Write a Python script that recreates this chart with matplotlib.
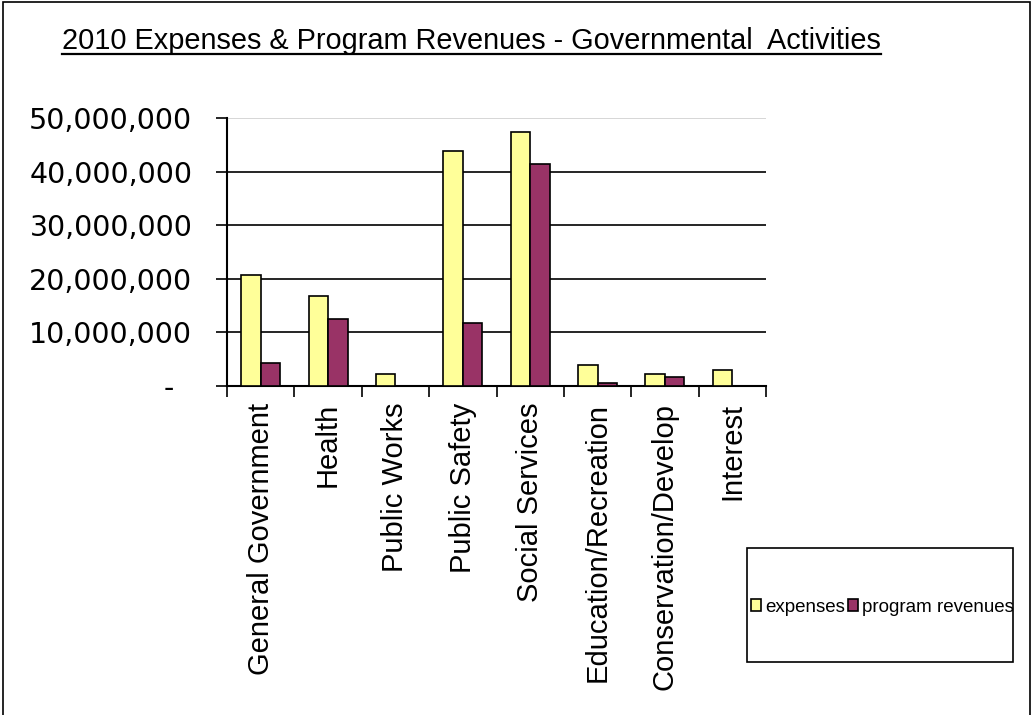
import matplotlib
matplotlib.use("Agg")
import matplotlib.pyplot as plt
import numpy as np
from matplotlib.patches import Rectangle, Patch
from matplotlib.lines import Line2D
from matplotlib.ticker import FuncFormatter

categories = [
    "General Government", "Health", "Public Works", "Public Safety",
    "Social Services", "Education/Recreation", "Conservation/Develop", "Interest",
]
expenses = [20.8e6, 16.8e6, 2.2e6, 43.8e6, 47.4e6, 3.9e6, 2.2e6, 2.9e6]
program_revenues = [4.2e6, 12.5e6, 0.0, 11.8e6, 41.5e6, 0.6e6, 1.7e6, 0.0]
y_ticks = [0, 10e6, 20e6, 30e6, 40e6, 50e6]

plt.rcParams["font.family"] = ["Liberation Sans", "DejaVu Sans"]

W, H = 1034, 715
fig = plt.figure(figsize=(W / 100, H / 100), dpi=100)

# outer chart frame (bottom edge falls off the page)
fig.add_artist(Rectangle((3 / W, -0.05), (1030 - 3) / W, 1.05 - 2 / H,
                         transform=fig.transFigure, fill=False,
                         edgecolor="black", linewidth=1.2))

ax = fig.add_axes([227 / W, 1 - 386 / H, (766 - 227) / W, (386 - 118) / H])

x = np.arange(len(categories))
bw = 0.29
ax.bar(x - bw / 2, expenses, bw, color="#FFFF99", edgecolor="black",
       linewidth=1.2, label="expenses", zorder=3)
ax.bar(x + bw / 2, program_revenues, bw, color="#993366", edgecolor="black",
       linewidth=1.2, label="program revenues", zorder=3)

ax.set_xlim(-0.5, len(categories) - 0.5)
ax.set_ylim(0, 50e6)
ax.set_yticks(y_ticks)
# accounting style: zero shows as a dash
ax.yaxis.set_major_formatter(FuncFormatter(lambda v, _: "-  " if v == 0 else f"{v:,.0f}"))
ax.tick_params(axis="y", direction="out", length=8, width=1.2, pad=17)
for lbl in ax.get_yticklabels():
    lbl.set_fontfamily("DejaVu Sans")
    lbl.set_fontsize(20.5)

# category boundary ticks, labels at centres
ax.set_xticks(np.arange(len(categories) + 1) - 0.5)
ax.set_xticklabels([])
ax.set_xticks(x, minor=True)
ax.set_xticklabels(categories, minor=True, rotation=90, fontsize=21)
ax.tick_params(axis="x", which="major", direction="out", length=8, width=1.2)
ax.tick_params(axis="x", which="minor", length=0, pad=12)

for v in y_ticks[1:]:
    ax.axhline(v, color="#D0D0D0" if v == y_ticks[-1] else "black",
               linewidth=1.2, zorder=1)

for side in ("top", "right"):
    ax.spines[side].set_visible(False)
for side in ("left", "bottom"):
    ax.spines[side].set_linewidth(1.5)

# underlined title
title = fig.text(62 / W, 1 - 49 / H,
                 "2010 Expenses & Program Revenues - Governmental  Activities",
                 fontsize=20.8, va="baseline", ha="left")
fig.canvas.draw()
bb = title.get_window_extent()
uy = 1 - 54 / H
fig.add_artist(Line2D([bb.x0 / W, bb.x1 / W], [uy, uy],
                      transform=fig.transFigure, color="black", linewidth=1.6))

# legend box
fig.add_artist(Rectangle((747 / W, 1 - 662 / H), (1013 - 747) / W, (662 - 548) / H,
                         transform=fig.transFigure, fill=False,
                         edgecolor="black", linewidth=1.2))
handles = [Patch(facecolor="#FFFF99", edgecolor="black", linewidth=1.2),
           Patch(facecolor="#993366", edgecolor="black", linewidth=1.2)]
fig.legend(handles, ["expenses", "program revenues"], loc="center left",
           bbox_to_anchor=(751 / W, 1 - 607 / H), ncol=2, frameon=False,
           fontsize=13.5, handlelength=0.55, handleheight=0.55, handletextpad=0.2,
           columnspacing=0.15, borderaxespad=0, borderpad=0)

fig.savefig("out.png", dpi=100)
